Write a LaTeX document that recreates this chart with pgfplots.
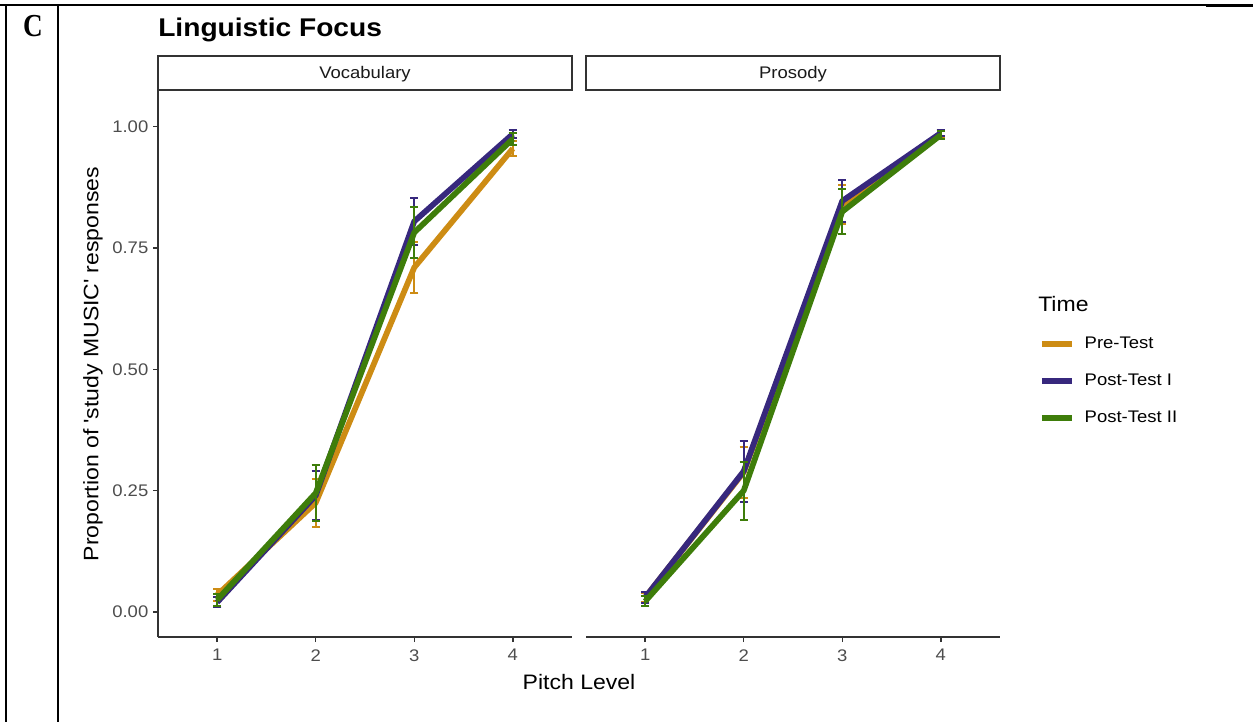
\documentclass[border=0pt]{standalone}
\usepackage{fontspec}
\setmainfont{Liberation Sans}[FakeStretch=1.1]
\newfontfamily\cfont{Liberation Serif}[FakeStretch=0.85]
\usepackage{pgfplots}
\pgfplotsset{compat=1.18}
\definecolor{cPre}{RGB}{205,140,20}
\definecolor{cPa}{RGB}{55,40,125}
\definecolor{cPb}{RGB}{62,125,10}
\definecolor{axgray}{HTML}{333333}
\definecolor{lblgray}{HTML}{4D4D4D}
\definecolor{strgray}{HTML}{1A1A1A}

\pgfplotsset{
 panel/.style={
  scale only axis, width=310.5pt, height=410.25pt,
  xmin=0.4, xmax=4.6, ymin=-0.0515, ymax=1.0756,
  axis x line*=bottom,
  axis line style={-, draw=axgray, line width=1.5pt},
  xtick={1,2,3,4}, xticklabels={1,2,3,4},
  xticklabel style={yshift=-2pt},
  tick align=outside, major tick length=3.75pt,
  tick style={draw=axgray, line width=1.1pt},
  ticklabel style={font=\fontsize{12.6}{14}\selectfont, text=lblgray},
  clip=false,
 },
 ser/.style={color=#1, line width=4.3pt, line join=round, mark=none,
   error bars/y dir=both, error bars/y explicit,
   error bars/error bar style={line width=1.5pt, color=#1},
   error bars/error mark options={line width=1.5pt, mark size=3.1pt, color=#1, rotate=90}},
}

\begin{document}
\begin{tikzpicture}
\useasboundingbox (0pt,0pt) rectangle (939.75pt,541.5pt);
% table frame
\draw[line width=1.3pt] (0pt,537.75pt) -- (939.75pt,537.75pt);
\draw[line width=2.2pt] (904.5pt,537pt) -- (939.75pt,537pt);
\draw[line width=1.4pt] (4.5pt,537.75pt) -- (4.5pt,0pt);
\draw[line width=1.4pt] (43.5pt,537.75pt) -- (43.5pt,0pt);
\node at (24.75pt,522pt) {\cfont\bfseries\fontsize{24}{26}\selectfont C};
% title
\node[anchor=base west, inner sep=0pt] at (118.5pt,513.75pt) {\bfseries\fontsize{19.2}{22}\selectfont Linguistic Focus};
% strips
\draw[draw=axgray, line width=1.2pt, fill=white] (118.5pt,474pt) rectangle (429pt,499.5pt);
\draw[draw=axgray, line width=1.2pt, fill=white] (439.5pt,474pt) rectangle (750pt,499.5pt);
\node[anchor=base, inner sep=0pt, text=strgray] at (273.75pt,482.25pt) {\fontsize{12.6}{14}\selectfont Vocabulary};
\node[anchor=base, inner sep=0pt, text=strgray] at (594.75pt,482.25pt) {\fontsize{12.6}{14}\selectfont Prosody};

\begin{axis}[panel, at={(118.5pt,63.75pt)}, anchor=south west,
  axis y line*=left,
  ytick={0,0.25,0.5,0.75,1}, yticklabels={0.00,0.25,0.50,0.75,1.00}]
\addplot[ser=cPre] coordinates {(1,0.035) +- (0,0.012) (2,0.225) +- (0,0.05) (3,0.71) +- (0,0.052) (4,0.955) +- (0,0.015)};
\addplot[ser=cPa] coordinates {(1,0.02) +- (0,0.01) (2,0.24) +- (0,0.05) (3,0.805) +- (0,0.048) (4,0.985) +- (0,0.008)};
\addplot[ser=cPb] coordinates {(1,0.025) +- (0,0.012) (2,0.245) +- (0,0.057) (3,0.782) +- (0,0.052) (4,0.975) +- (0,0.012)};
\end{axis}

\begin{axis}[panel, at={(439.5pt,63.75pt)}, anchor=south west,
  axis y line=none,
  legend style={at={(1.0942,0.468)}, anchor=west, draw=none, fill=none,
    inner sep=0pt, outer sep=0pt, font=\fontsize{12.6}{14}\selectfont,
    cells={anchor=west}, row sep=16.25pt, column sep=7.5pt,
    nodes={inner sep=0pt, text height=9pt, text depth=2.5pt}},
  legend image code/.code={\draw[#1, line width=4.3pt] (0pt,0pt) -- (22.5pt,0pt);}]
\addplot[ser=cPre] coordinates {(1,0.03) +- (0,0.01) (2,0.288) +- (0,0.053) (3,0.84) +- (0,0.04) (4,0.985) +- (0,0.008)};
\addplot[ser=cPa] coordinates {(1,0.03) +- (0,0.012) (2,0.29) +- (0,0.063) (3,0.847) +- (0,0.043) (4,0.987) +- (0,0.007)};
\addplot[ser=cPb] coordinates {(1,0.022) +- (0,0.01) (2,0.25) +- (0,0.06) (3,0.825) +- (0,0.047) (4,0.983) +- (0,0.008)};
\legend{Pre-Test, Post-Test I, Post-Test II}
\end{axis}

% axis titles and legend title
\node[anchor=base] at (434.25pt,24.75pt) {\fontsize{15.7}{18}\selectfont Pitch Level};
\node[rotate=90] at (69.75pt,268.5pt) {\fontsize{15.7}{18}\selectfont Proportion of \textquotesingle study MUSIC\textquotesingle\ responses};
\node[anchor=base west, inner sep=0pt] at (778.5pt,307.5pt) {\fontsize{15.7}{18}\selectfont Time};
\end{tikzpicture}
\end{document}
